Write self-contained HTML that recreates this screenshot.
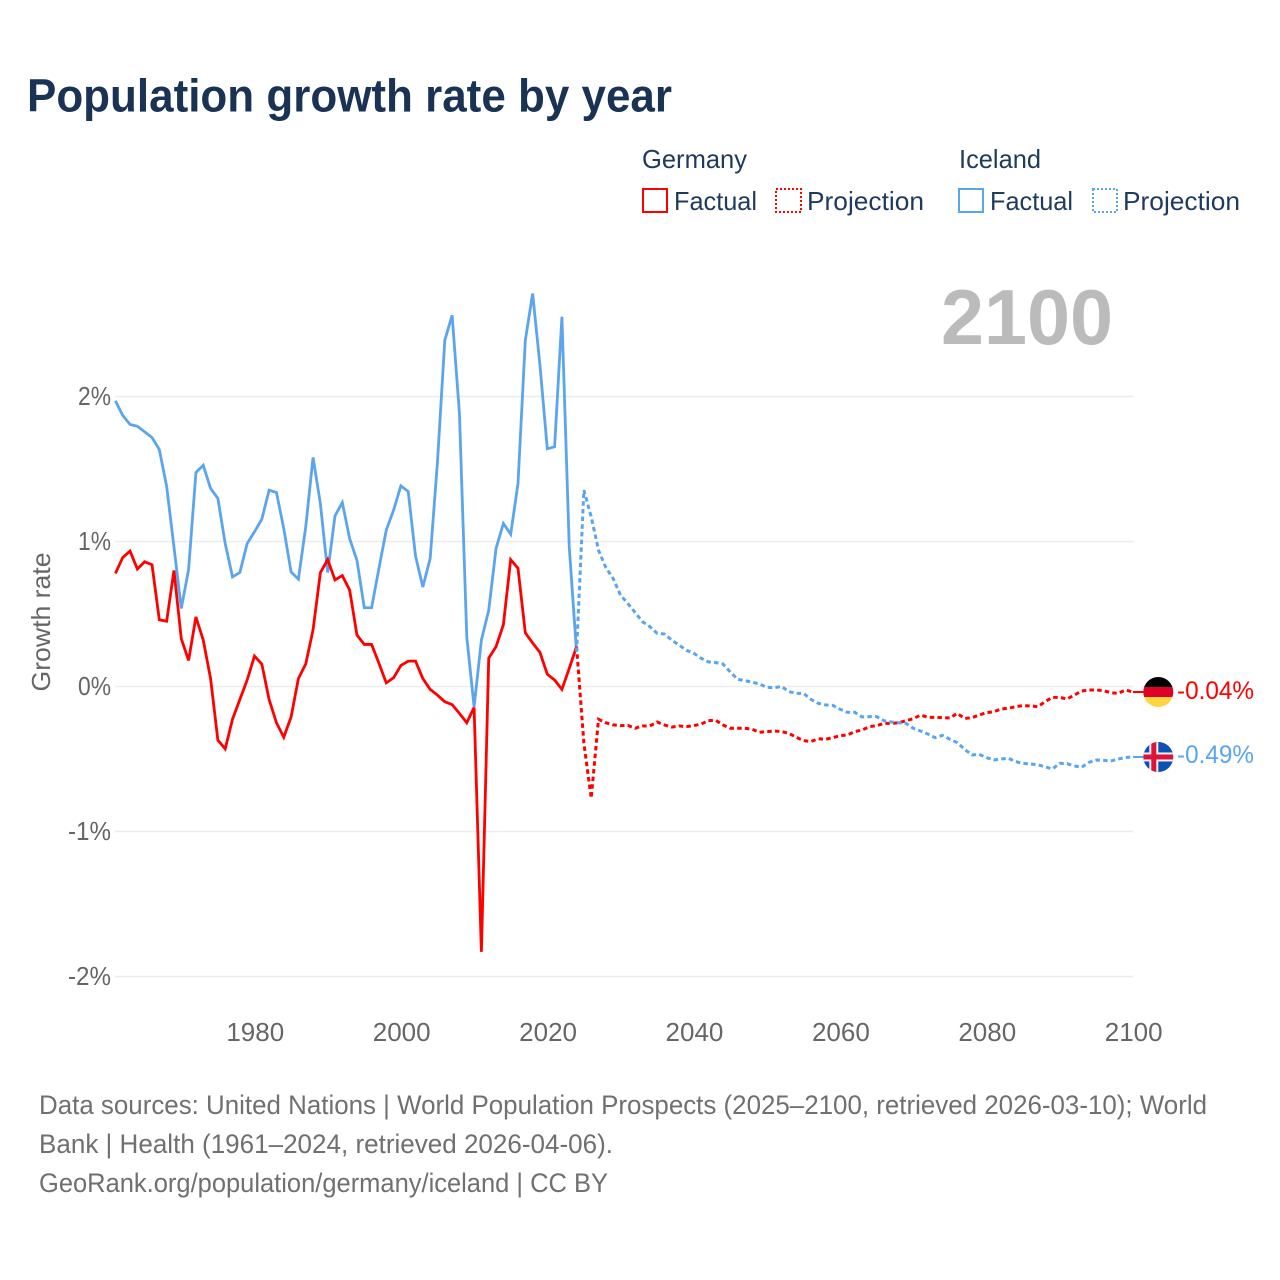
<!DOCTYPE html>
<html lang="en">
<head>
<meta charset="utf-8">
<title>Population growth rate by year</title>
<style>
html,body{margin:0;padding:0;background:#fff;}
svg{display:block;font-family:"Liberation Sans",sans-serif;}
</style>
</head>
<body>
<svg id="chart" xmlns="http://www.w3.org/2000/svg" width="1280" height="1280" viewBox="0 0 1280 1280">
  <rect width="1280" height="1280" fill="#fff"/>
  <text x="27" y="111.5" font-size="46" font-weight="700" fill="#1a3354" textLength="645" lengthAdjust="spacingAndGlyphs">Population growth rate by year</text>

  <g font-size="26" fill="#1f3a5c">
    <text x="642" y="168" textLength="105" lengthAdjust="spacingAndGlyphs">Germany</text>
    <text x="959" y="168" textLength="82" lengthAdjust="spacingAndGlyphs">Iceland</text>
    <g>
      <rect x="643" y="189" width="24" height="23" fill="none" stroke="#ff0000" stroke-width="2"/>
      <text x="674" y="210" textLength="83" lengthAdjust="spacingAndGlyphs">Factual</text>
    </g>
    <g>
      <rect x="776" y="189" width="25" height="23" fill="none" stroke="#ff0000" stroke-width="2" stroke-dasharray="2 2"/>
      <text x="807" y="210" textLength="117" lengthAdjust="spacingAndGlyphs">Projection</text>
    </g>
    <g>
      <rect x="959" y="189" width="24" height="23" fill="none" stroke="#5ba4ee" stroke-width="2"/>
      <text x="990" y="210" textLength="83" lengthAdjust="spacingAndGlyphs">Factual</text>
    </g>
    <g>
      <rect x="1093" y="189" width="24" height="23" fill="none" stroke="#5ba4ee" stroke-width="2" stroke-dasharray="2 2"/>
      <text x="1123" y="210" textLength="117" lengthAdjust="spacingAndGlyphs">Projection</text>
    </g>
  </g>

  <text x="941" y="344" font-size="78" font-weight="700" fill="#bbbbbb" textLength="172" lengthAdjust="spacingAndGlyphs">2100</text>
  <text transform="translate(50 622) rotate(-90)" text-anchor="middle" font-size="26" fill="#666" textLength="139" lengthAdjust="spacingAndGlyphs">Growth rate</text>

  <g id="grid"></g>
  <g id="yTicks"></g>
  <g id="xTicks"></g>
  <g id="series"></g>

  <defs>
    <clipPath id="flagClipDe"><circle id="flagClipDeCircle" r="15"/></clipPath>
    <clipPath id="flagClipIs"><circle id="flagClipIsCircle" r="15"/></clipPath>
  </defs>
  <g id="flagDe" clip-path="url(#flagClipDe)"></g>
  <g id="flagIs" clip-path="url(#flagClipIs)"></g>
  <g id="endLabels"></g>

  <g font-size="27" fill="#707070">
    <text x="39" y="1114" textLength="1168" lengthAdjust="spacingAndGlyphs">Data sources: United Nations | World Population Prospects (2025–2100, retrieved 2026-03-10); World</text>
    <text x="39" y="1153" textLength="574" lengthAdjust="spacingAndGlyphs">Bank | Health (1961–2024, retrieved 2026-04-06).</text>
    <text x="39" y="1192" textLength="569" lengthAdjust="spacingAndGlyphs">GeoRank.org/population/germany/iceland | CC BY</text>
  </g>
</svg>

<script>
// Chart data (percent growth per year)
const factualStartYear = 1961;
const projectionStartYear = 2024;
const xTickYears = [1980, 2000, 2020, 2040, 2060, 2080, 2100];
const yTickValues = [2, 1, 0, -1, -2];
const germanyFactual = [0.78,0.89,0.934,0.81,0.86,0.84,0.46,0.45,0.80,0.33,0.18,0.48,0.32,0.055,-0.37,-0.43,-0.225,-0.09,0.045,0.21,0.155,-0.09,-0.25,-0.35,-0.21,0.055,0.155,0.39,0.785,0.875,0.735,0.765,0.665,0.355,0.29,0.29,0.16,0.025,0.06,0.145,0.175,0.175,0.055,-0.02,-0.06,-0.105,-0.125,-0.185,-0.25,-0.145,-1.83,0.195,0.275,0.425,0.875,0.815,0.37,0.30,0.235,0.085,0.045,-0.02,0.125,0.275];
const icelandFactual = [1.97,1.87,1.807,1.795,1.756,1.717,1.634,1.38,0.963,0.538,0.807,1.476,1.526,1.366,1.297,0.986,0.756,0.786,0.986,1.067,1.154,1.354,1.338,1.09,0.79,0.74,1.10,1.58,1.262,0.786,1.177,1.269,1.02,0.87,0.543,0.543,0.814,1.078,1.216,1.384,1.345,0.9,0.686,0.883,1.55,2.388,2.56,1.883,0.343,-0.14,0.32,0.526,0.952,1.124,1.05,1.4,2.388,2.71,2.216,1.64,1.653,2.55,0.963,0.239];
const germanyProjection = [0.275,-0.39,-0.77,-0.226,-0.25,-0.265,-0.27,-0.268,-0.288,-0.272,-0.272,-0.245,-0.265,-0.28,-0.272,-0.277,-0.27,-0.26,-0.235,-0.233,-0.265,-0.288,-0.288,-0.288,-0.295,-0.316,-0.311,-0.307,-0.311,-0.323,-0.35,-0.373,-0.38,-0.36,-0.364,-0.353,-0.339,-0.334,-0.311,-0.3,-0.277,-0.27,-0.254,-0.254,-0.25,-0.236,-0.222,-0.197,-0.213,-0.213,-0.215,-0.217,-0.185,-0.22,-0.215,-0.197,-0.18,-0.174,-0.155,-0.15,-0.139,-0.132,-0.134,-0.139,-0.105,-0.075,-0.075,-0.086,-0.059,-0.031,-0.024,-0.024,-0.029,-0.043,-0.047,-0.024,-0.038];
const icelandProjection = [0.239,1.355,1.17,0.94,0.82,0.745,0.63,0.573,0.51,0.447,0.413,0.367,0.362,0.32,0.286,0.25,0.23,0.195,0.17,0.165,0.155,0.10,0.05,0.04,0.03,0.017,-0.006,-0.008,0,-0.035,-0.047,-0.047,-0.088,-0.116,-0.127,-0.13,-0.157,-0.178,-0.178,-0.21,-0.208,-0.208,-0.236,-0.245,-0.25,-0.254,-0.288,-0.307,-0.328,-0.353,-0.337,-0.364,-0.387,-0.433,-0.472,-0.468,-0.49,-0.507,-0.5,-0.495,-0.518,-0.53,-0.534,-0.54,-0.553,-0.569,-0.53,-0.532,-0.548,-0.557,-0.523,-0.507,-0.509,-0.514,-0.5,-0.49,-0.486];
const endLabels = ["-0.04%", "-0.49%"];

// Axis functions
const xScale = year => 115.4 + (year - 1961) * 7.32;
const yScale = value => 686.5 - value * 145;

const SVG_NS = "http://www.w3.org/2000/svg";
const RED = "#ff0000";
const BLUE = "#5ba4ee";

function make(tag, parent, attrs) {
  const el = document.createElementNS(SVG_NS, tag);
  for (const k in attrs) el.setAttribute(k, attrs[k]);
  parent.appendChild(el);
  return el;
}

const gridGroup = document.getElementById("grid");
const yTickGroup = document.getElementById("yTicks");
yTickValues.forEach(v => {
  const line = make("line", gridGroup, {x1: 115, x2: 1133.5, y1: yScale(v), y2: yScale(v), stroke: "#ececec", "stroke-width": 1.5});
  
  
  const label = make("text", yTickGroup, {x: 111, y: yScale(v) + 8.5, "text-anchor": "end", "font-size": 26, fill: "#666", textLength: v < 0 ? 43 : 33, lengthAdjust: "spacingAndGlyphs"});
  
  
  label.textContent = v + "%";
});

const xTickGroup = document.getElementById("xTicks");
xTickYears.forEach(y => {
  const label = make("text", xTickGroup, {x: xScale(y) + 0.8, y: 1041, "text-anchor": "middle", "font-size": 26, fill: "#666"});
  
  
  label.textContent = y;
});

function pathFrom(values, startYear) {
  return values.map((v, i) => (i ? "L" : "M") + xScale(startYear + i).toFixed(2) + " " + yScale(v).toFixed(2)).join("");
}

const seriesGroup = document.getElementById("series");

const icelandFactualLine = make("path", seriesGroup, {d: pathFrom(icelandFactual, factualStartYear), fill: "none", stroke: BLUE, "stroke-width": 2.8, "stroke-linejoin": "miter"});



const germanyFactualLine = make("path", seriesGroup, {d: pathFrom(germanyFactual, factualStartYear), fill: "none", stroke: RED, "stroke-width": 2.8, "stroke-linejoin": "miter"});



const germanyProjectionLine = make("path", seriesGroup, {d: pathFrom(germanyProjection, projectionStartYear), fill: "none", stroke: RED, "stroke-width": 3, "stroke-dasharray": "4.5 3.2"});



const icelandProjectionLine = make("path", seriesGroup, {d: pathFrom(icelandProjection, projectionStartYear), fill: "none", stroke: BLUE, "stroke-width": 3, "stroke-dasharray": "4.5 3.2"});



// End of series connectors, flags, labels
const deEnd = germanyProjection[germanyProjection.length - 1];
const isEnd = icelandProjection[icelandProjection.length - 1];
const flagX = 1158.3;
const deY = yScale(deEnd);
const isY = yScale(isEnd);

const deConnector = make("line", seriesGroup, {x1: xScale(2100), x2: flagX - 14, y1: deY, y2: deY, stroke: RED, "stroke-width": 2});


const isConnector = make("line", seriesGroup, {x1: xScale(2100), x2: flagX - 14, y1: isY, y2: isY, stroke: BLUE, "stroke-width": 2});



const deClip = document.getElementById("flagClipDeCircle");
deClip.setAttribute("cx", flagX);
deClip.setAttribute("cy", deY);
const isClip = document.getElementById("flagClipIsCircle");
isClip.setAttribute("cx", flagX);
isClip.setAttribute("cy", isY);

const flagDe = document.getElementById("flagDe");
const left = flagX - 15;
make("rect", flagDe, {x: left, y: deY - 15, width: 30, height: 10.2, fill: "#000000"});
make("rect", flagDe, {x: left, y: deY - 5, width: 30, height: 10.2, fill: "#dd0027"});
make("rect", flagDe, {x: left, y: deY + 5, width: 30, height: 10, fill: "#ffd440"});

const flagIs = document.getElementById("flagIs");
make("rect", flagIs, {x: left, y: isY - 15, width: 30, height: 30, fill: "#0a52b5"});
make("rect", flagIs, {x: left + 6, y: isY - 15, width: 9, height: 30, fill: "#f4f0f0"});
make("rect", flagIs, {x: left, y: isY - 4.5, width: 30, height: 9, fill: "#f4f0f0"});
make("rect", flagIs, {x: left + 8, y: isY - 15, width: 5, height: 30, fill: "#dc143c"});
make("rect", flagIs, {x: left, y: isY - 2.5, width: 30, height: 5, fill: "#dc143c"});

const endGroup = document.getElementById("endLabels");
const deLabel = make("text", endGroup, {x: 1177, y: deY + 7, "font-size": 25, fill: RED, textLength: 77, lengthAdjust: "spacingAndGlyphs"});


deLabel.textContent = endLabels[0];
const isLabel = make("text", endGroup, {x: 1177, y: isY + 6, "font-size": 25, fill: BLUE, textLength: 77, lengthAdjust: "spacingAndGlyphs"});


isLabel.textContent = endLabels[1];
</script>
</body>
</html>
